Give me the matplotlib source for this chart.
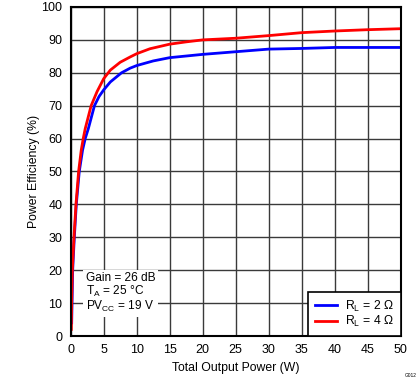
import matplotlib
matplotlib.use("Agg")
import matplotlib.pyplot as plt

plt.rcParams['font.family'] = ['Liberation Sans', 'DejaVu Sans']
plt.rcParams['mathtext.fontset'] = 'custom'
plt.rcParams['mathtext.rm'] = 'Liberation Sans'
plt.rcParams['mathtext.it'] = 'Liberation Sans:italic'

# RL = 2 ohm
p_2ohm = [0.15, 0.3, 0.55, 0.85, 1.3, 1.8, 2.2, 2.67, 3.6, 4.3, 5.0, 6.0, 7.7, 9, 10, 12.5, 15, 20, 25, 30, 35, 40, 45, 50]
eff_2ohm = [4, 20, 30, 40, 50, 56.5, 60, 63, 70, 72.8, 74.8, 77.2, 80, 81.4, 82.2, 83.6, 84.6, 85.6, 86.4, 87.2, 87.4, 87.7, 87.7, 87.7]

# RL = 4 ohm
p_4ohm = [0.1, 0.15, 0.25, 0.5, 0.8, 1.2, 1.6, 1.9, 2.2, 3.1, 4, 5, 6, 7.5, 9, 10, 12, 15, 17.5, 20, 25, 30, 35, 40, 45, 50]
eff_4ohm = [2, 10, 20, 30, 40, 50, 56.5, 60, 63, 70, 74.3, 78.2, 80.8, 83.2, 84.8, 85.8, 87.3, 88.7, 89.4, 90, 90.5, 91.3, 92.2, 92.7, 93.1, 93.4]

x_ticks = list(range(0, 51, 5))
y_ticks = list(range(0, 101, 10))

fig = plt.figure(figsize=(4.19, 3.82), dpi=100)
ax = fig.add_axes([0.1687, 0.1204, 0.7876, 0.8613])

ax.plot(p_2ohm, eff_2ohm, color='#0000ff', linewidth=2, label=r'R$_{\mathrm{L}}$ = 2 Ω')
ax.plot(p_4ohm, eff_4ohm, color='#ff0000', linewidth=2, label=r'R$_{\mathrm{L}}$ = 4 Ω')

ax.set_xlim(0, 50)
ax.set_ylim(0, 100)
ax.set_xticks(x_ticks)
ax.set_yticks(y_ticks)
ax.tick_params(length=0, labelsize=9, pad=6)
ax.grid(True, color='#3a3a3a', linewidth=1)
ax.set_axisbelow(True)
for s in ax.spines.values():
    s.set_linewidth(1.5)
    s.set_color('black')

ax.set_xlabel('Total Output Power (W)', fontsize=8.8, labelpad=4)
ax.set_ylabel('Power Efficiency (%)', fontsize=8.8, labelpad=1)

leg = ax.legend(loc='lower right', bbox_to_anchor=(1, 0), borderaxespad=0,
                fontsize=8.8, fancybox=False, framealpha=1, handlelength=1.8,
                borderpad=0.55, labelspacing=0.05, handletextpad=0.7)
leg.get_frame().set_edgecolor('black')
leg.get_frame().set_linewidth(1.2)

ax.text(0.045, 0.13, 'Gain = 26 dB\n' + r'T$_{\mathrm{A}}$ = 25 °C' + '\n' + r'PV$_{\mathrm{CC}}$ = 19 V',
        transform=ax.transAxes, fontsize=8.6, va='center', ha='left', linespacing=1.0,
        bbox=dict(facecolor='white', edgecolor='none', pad=2))

fig.text(0.995, 0.01, 'G012', fontsize=3.5, ha='right', va='bottom')

fig.savefig('out.png', dpi=100)
